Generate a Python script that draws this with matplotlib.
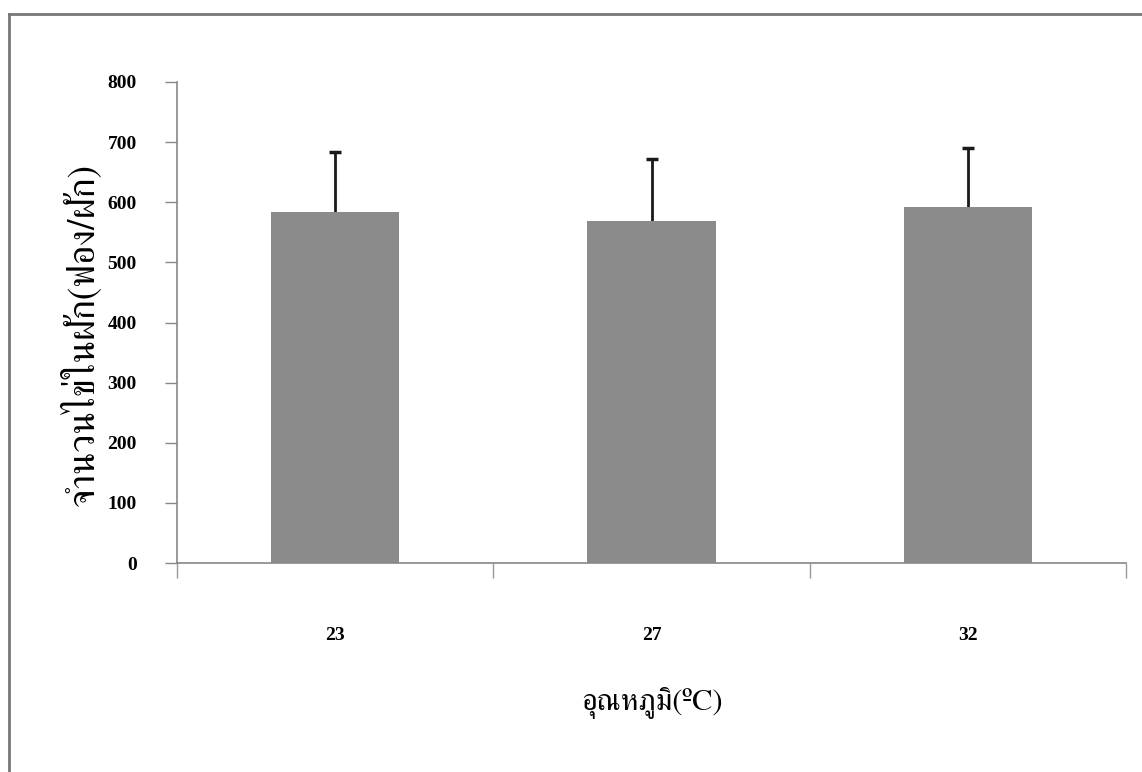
import matplotlib
matplotlib.use("Agg")
import matplotlib.pyplot as plt
from matplotlib import font_manager
from matplotlib.ft2font import FT2Font
from matplotlib.lines import Line2D

categories = ["23", "27", "32"]
means = [583, 569, 592]
errors = [100, 103, 98]
yticks = [0, 100, 200, 300, 400, 500, 600, 700, 800]
ylabel_text = "จำนวนไข่ในฝัก(ฟอง/ฝัก)"
xlabel_text = "อุณหภูมิ(ºC)"

# find a font with Thai glyphs
thai_families = []
for fe in font_manager.fontManager.ttflist:
    try:
        cmap = FT2Font(fe.fname).get_charmap()
        if 0x0E08 in cmap and fe.name not in thai_families:
            thai_families.append(fe.name)
    except Exception:
        pass
serif_pref = [f for f in thai_families if "Serif" in f or "Looped" in f]
thai_fam = (serif_pref + thai_families)[:1]
label_family = thai_fam + ["Liberation Serif", "DejaVu Serif"]

fig = plt.figure(figsize=(11.42, 7.72), dpi=100)
ax = fig.add_axes([177/1142, 1-563/772, (1126-177)/1142, (563-82)/772])

x = list(range(len(categories)))
ax.bar(x, means, width=0.405, color="#8b8b8b", edgecolor="none", zorder=2)
ax.errorbar(x, means, yerr=errors, fmt="none", ecolor="#1a1a1a",
            elinewidth=2, capsize=4, capthick=2.5, zorder=1)

ax.set_xlim(-0.5, 2.5)
ax.set_ylim(0, 800)
ax.set_yticks(yticks)
ax.set_yticklabels([str(v) for v in yticks], fontfamily="Liberation Serif",
                   fontweight="bold", fontsize=14)
ax.tick_params(axis="y", direction="out", length=9, width=1, color="#888888", pad=20)

ax.set_xticks([-0.5, 0.5, 1.5, 2.5])
ax.set_xticklabels([])
ax.tick_params(axis="x", which="major", direction="out", length=11, width=1, color="#999999")
ax.set_xticks(x, minor=True)
ax.set_xticklabels(categories, minor=True, fontfamily="Liberation Serif",
                   fontweight="bold", fontsize=14)
ax.tick_params(axis="x", which="minor", length=0, pad=46)

for s in ["top", "right"]:
    ax.spines[s].set_visible(False)
for s in ["left", "bottom"]:
    ax.spines[s].set_color("#888888")
    ax.spines[s].set_linewidth(1.2)

fig.text(80/1142, 1-335/772, ylabel_text, rotation=90, ha="center", va="center",
         fontsize=27, family=label_family)
fig.text(652/1142, 1-703/772, xlabel_text, ha="center", va="center",
         fontsize=22, family=label_family)

# scanned page frame
fx, fy = 9/1142, 1-14/772
fig.add_artist(Line2D([fx, fx], [-0.05, fy], transform=fig.transFigure, color="#777777", lw=2))
fig.add_artist(Line2D([fx, 1.05], [fy, fy], transform=fig.transFigure, color="#777777", lw=2))

fig.savefig("out.png", dpi=100)
